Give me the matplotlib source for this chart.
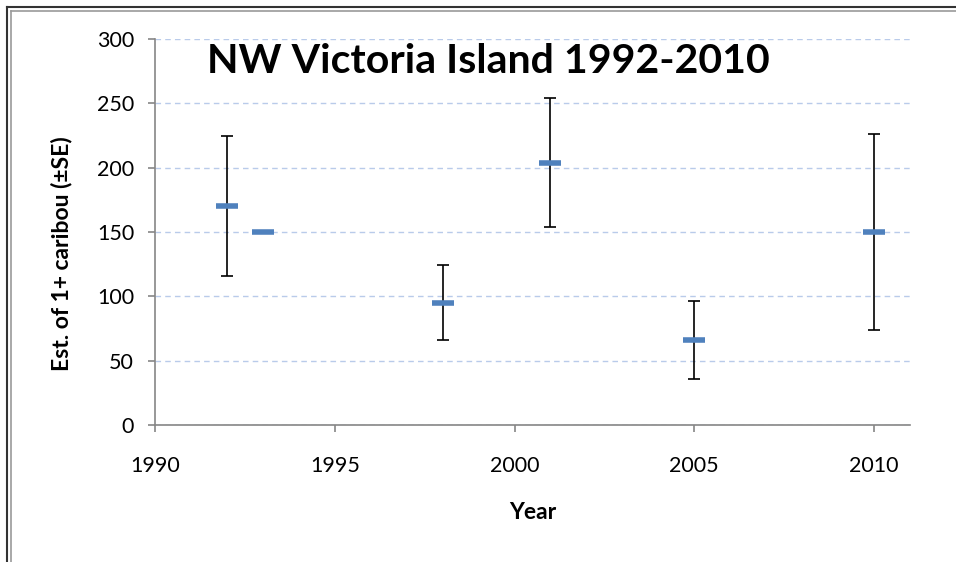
import numpy as np
import matplotlib.pyplot as plt
from matplotlib.lines import Line2D

# survey estimates of 1+ caribou with standard errors
years = [1992, 1993, 1998, 2001, 2005, 2010]
estimates = [170, 150, 95, 204, 66, 150]
se = [54.5, np.nan, 29, 50, 30, 76]

plt.rcParams['font.family'] = ['Lato', 'DejaVu Sans']

fig = plt.figure(figsize=(9.56, 5.62), dpi=100)
ax = fig.add_axes([0.1621, 0.2438, 0.9519 - 0.1621, 0.9306 - 0.2438])

yr = np.array(years, dtype=float)
est = np.array(estimates, dtype=float)
err = np.array(se, dtype=float)
has_err = ~np.isnan(err)

ax.errorbar(yr[has_err], est[has_err], yerr=err[has_err], fmt='none',
            ecolor='black', elinewidth=1.2, capsize=4.5, capthick=1.2, zorder=3)
ax.plot(yr, est, linestyle='none', marker='_', markersize=16,
        markeredgewidth=4, color='#4f81bd', zorder=4)

ax.set_xlim(1990, 2011)
ax.set_ylim(0, 300)
ax.set_xticks([1990, 1995, 2000, 2005, 2010])
ax.set_yticks(np.arange(0, 301, 50))

ax.grid(axis='y', linestyle=(0, (4, 3)), color='#b9cbea', linewidth=1.0)
ax.set_axisbelow(True)
for s in ['top', 'right']:
    ax.spines[s].set_visible(False)
for s in ['left', 'bottom']:
    ax.spines[s].set_color('#868686')
    ax.spines[s].set_linewidth(1.2)

ax.tick_params(axis='y', direction='out', length=5, width=1.2, color='#868686',
               labelsize=15.5, pad=10)
ax.tick_params(axis='x', direction='out', length=5, width=1.2, color='#868686',
               labelsize=15.5, pad=17)

ax.set_xlabel('Year', fontsize=16.5, fontweight='bold', labelpad=19)
ax.set_ylabel('Est. of 1+ caribou (±SE)', fontsize=16.5, fontweight='bold')
ax.yaxis.set_label_coords(-0.110, 0.445)

fig.text(0.2165, 0.891, 'NW Victoria Island 1992-2010', fontsize=29.5,
         fontweight='bold', ha='left', va='center')

# double frame on top and left edges
for off, col, lw in [(7, '#333333', 1.5), (10.5, '#9a9a9a', 1.2)]:
    fig.add_artist(Line2D([off / 956, 1], [1 - off / 562] * 2, color=col, lw=lw))
    fig.add_artist(Line2D([off / 956] * 2, [0, 1 - off / 562], color=col, lw=lw))

fig.savefig('out.png', dpi=100)
